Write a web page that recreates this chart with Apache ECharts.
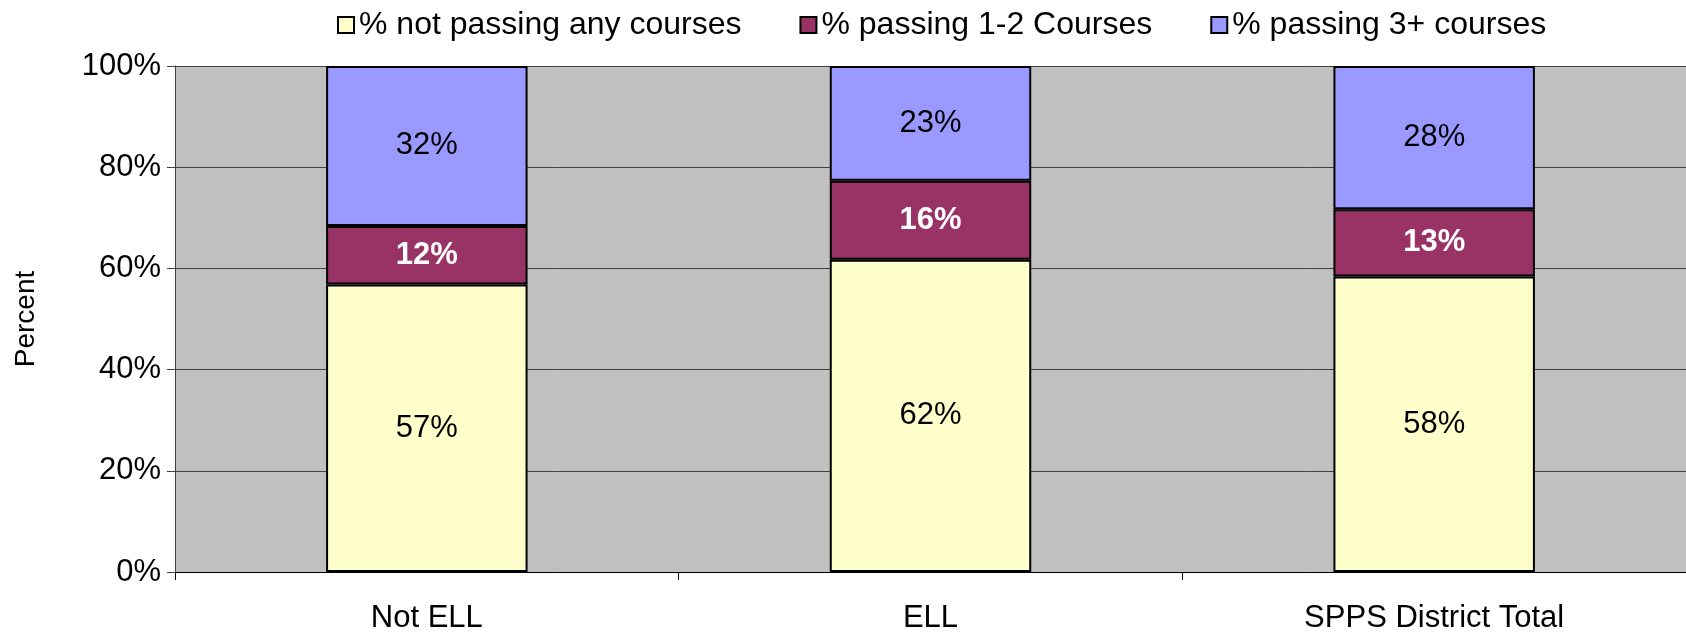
<!DOCTYPE html>
<html lang="en" style="height: 100%">
  <head>
    <meta charset="utf-8" />
  </head>
  <body style="height: 100%; margin: 0; background: #fff">
    <div id="container" style="width: 1686px; height: 634px"></div>

    <script
      type="text/javascript"
      src="https://fastly.jsdelivr.net/npm/echarts@6/dist/echarts.min.js"
    ></script>

    <script type="text/javascript">
      // data
      var categories = ["Not ELL", "ELL", "SPPS District Total"];
      var seriesNames = [
        "% not passing any courses",
        "% passing 1-2 Courses",
        "% passing 3+ courses",
      ];
      var notPassing = [56.8, 61.7, 58.4];
      var passing12 = [11.6, 15.6, 13.3];
      var passing3 = [31.6, 22.7, 28.3];
      var yTicks = [0, 20, 40, 60, 80, 100];

      var FONT = "Liberation Sans, Arial, sans-serif";
      var dom = document.getElementById("container");
      var myChart = echarts.init(dom, null, { renderer: "canvas" });

      function pct(p) {
        return Math.round(p.value) + "%";
      }

      function barSeries(name, data, color, labelColor, bold) {
        return {
          name: name,
          type: "bar",
          stack: "total",
          data: data,
          barWidth: "40%",
          itemStyle: { color: color, borderColor: "#000", borderWidth: 2 },
          label: {
            show: true,
            position: "inside",
            formatter: pct,
            color: labelColor,
            fontFamily: FONT,
            fontSize: 31,
            fontWeight: bold ? "bold" : "normal",
          },
          emphasis: { disabled: true },
          animation: false,
        };
      }

      var option = {
        animation: false,
        legend: {
          left: 332,
          top: 4,
          itemGap: 58,
          itemWidth: 16,
          itemHeight: 16,
          icon: "rect",
          textStyle: { fontFamily: FONT, fontSize: 32, color: "#000" },
          itemStyle: { borderColor: "#000", borderWidth: 2 },
          data: seriesNames,
        },
        grid: {
          left: 175,
          right: 0,
          top: 66,
          bottom: 61,
          show: true,
          backgroundColor: "#C0C0C0",
          borderWidth: 0,
        },
        xAxis: {
          type: "category",
          data: categories,
          axisLine: { lineStyle: { color: "#000", width: 1 } },
          axisTick: { show: true, length: 8, lineStyle: { color: "#000" } },
          axisLabel: {
            fontFamily: FONT,
            fontSize: 31,
            color: "#000",
            margin: 31,
          },
        },
        yAxis: {
          type: "value",
          min: 0,
          max: 100,
          interval: 20,
          name: "Percent",
          nameLocation: "middle",
          nameGap: 135,
          nameRotate: 90,
          nameTextStyle: { fontFamily: FONT, fontSize: 28, color: "#000" },
          axisLine: { show: true, lineStyle: { color: "#404040" } },
          axisTick: { show: true, length: 8, lineStyle: { color: "#404040" } },
          axisLabel: {
            fontFamily: FONT,
            fontSize: 31,
            color: "#000",
            margin: 14,
            formatter: function (v) {
              return yTicks.indexOf(v) >= 0 ? v + "%" : "";
            },
          },
          splitLine: { show: true, lineStyle: { color: "#404040", width: 1 } },
        },
        series: [
          barSeries(seriesNames[0], notPassing, "#FFFFCC", "#000", false),
          barSeries(seriesNames[1], passing12, "#993366", "#fff", true),
          barSeries(seriesNames[2], passing3, "#9999FF", "#000", false),
        ],
      };

      myChart.setOption(option);
      window.addEventListener("resize", myChart.resize);
    </script>
  </body>
</html>
